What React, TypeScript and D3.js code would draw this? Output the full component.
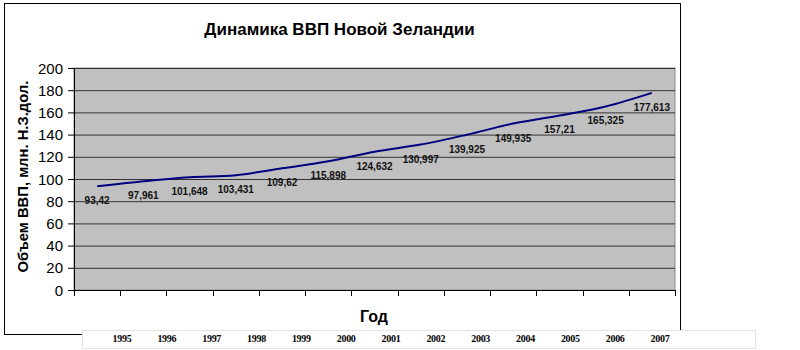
import React from "react";
import * as d3 from "d3";

const years = ["1995","1996","1997","1998","1999","2000","2001","2002","2003","2004","2005","2006","2007"];
const gdp = [93.42, 97.961, 101.648, 103.431, 109.62, 115.898, 124.632, 130.997, 139.925, 149.935, 157.21, 165.325, 177.613];
const yTicks = [0, 20, 40, 60, 80, 100, 120, 140, 160, 180, 200];
const title = "Динамика ВВП Новой Зеландии";
const yTitle = "Объем ВВП, млн. Н.З.дол.";
const xTitle = "Год";

const W = 800, H = 350;
const plot = { left: 74, top: 68, right: 675, bottom: 290 };

export default function App() {
  const x = d3.scaleBand<string>().domain(years).range([plot.left, plot.right]).padding(0);
  const y = d3.scaleLinear().domain([0, 200]).range([plot.bottom, plot.top]);
  const cx = (d: string) => (x(d) as number) + x.bandwidth() / 2;
  const line = d3.line<number>()
    .x((_, i) => cx(years[i]))
    .y((d) => y(d))
    .curve(d3.curveCatmullRom.alpha(0));
  const yearPos = d3.scalePoint<string>().domain(years).range([122, 660]);
  const boundaries = d3.range(years.length + 1).map((i) => plot.left + i * x.bandwidth());
  const fmt = (v: number) => String(v).replace(".", ",");

  return (
    <svg width={W} height={H} style={{ position: "absolute", left: 0, top: 0, background: "#fff" }}
      fontFamily="Liberation Sans, Arial, sans-serif">
      <rect x={0} y={0} width={W} height={H} fill="#fff" />
      <rect x={4.5} y={3.5} width={676} height={331} fill="#fff" stroke="#000" strokeWidth={1} />
      <text x={339.5} y={35} textAnchor="middle" fontSize={17} fontWeight="bold">{title}</text>
      <rect x={plot.left} y={plot.top} width={plot.right - plot.left} height={plot.bottom - plot.top} fill="#c0c0c0" stroke="#8a8a8a" strokeWidth={1} />
      {yTicks.map((t) => (
        <g key={t}>
          {t > 0 && <line x1={plot.left} x2={plot.right} y1={y(t) + 0.5} y2={y(t) + 0.5} stroke="#333" strokeWidth={1} />}
          <line x1={plot.left - 6} x2={plot.left} y1={y(t) + 0.5} y2={y(t) + 0.5} stroke="#000" />
          <text x={63} y={y(t) + 5.5} textAnchor="end" fontSize={15}>{t}</text>
        </g>
      ))}
      <line x1={plot.left + 0.5} x2={plot.left + 0.5} y1={plot.top} y2={plot.bottom} stroke="#000" />
      <line x1={plot.left} x2={plot.right} y1={plot.bottom + 0.5} y2={plot.bottom + 0.5} stroke="#000" />
      {boundaries.map((b, i) => (
        <line key={i} x1={Math.round(b) + 0.5} x2={Math.round(b) + 0.5} y1={plot.bottom} y2={plot.bottom + 6} stroke="#000" />
      ))}
      <path d={line(gdp) || ""} fill="none" stroke="#000080" strokeWidth={2} />
      {gdp.map((v, i) => (
        <text key={i} x={cx(years[i])} y={y(v) + 18} textAnchor="middle" fontSize={10} fontWeight="bold" fill="#111">{fmt(v)}</text>
      ))}
      <text transform={`translate(28,176.5) rotate(-90)`} textAnchor="middle" fontSize={14.8} fontWeight="bold">{yTitle}</text>
      <text x={374} y={322} textAnchor="middle" fontSize={16} fontWeight="bold">{xTitle}</text>
      <rect x={82.5} y={330.5} width={673} height={18} fill="#fff" stroke="#e4e4e4" strokeWidth={1} />
      {years.map((yr) => (
        <text key={yr} x={yearPos(yr)} y={342} textAnchor="middle" fontSize={10} fontWeight="bold" fontFamily="Liberation Serif, Times New Roman, serif" letterSpacing={-0.3}>{yr}</text>
      ))}
    </svg>
  );
}
